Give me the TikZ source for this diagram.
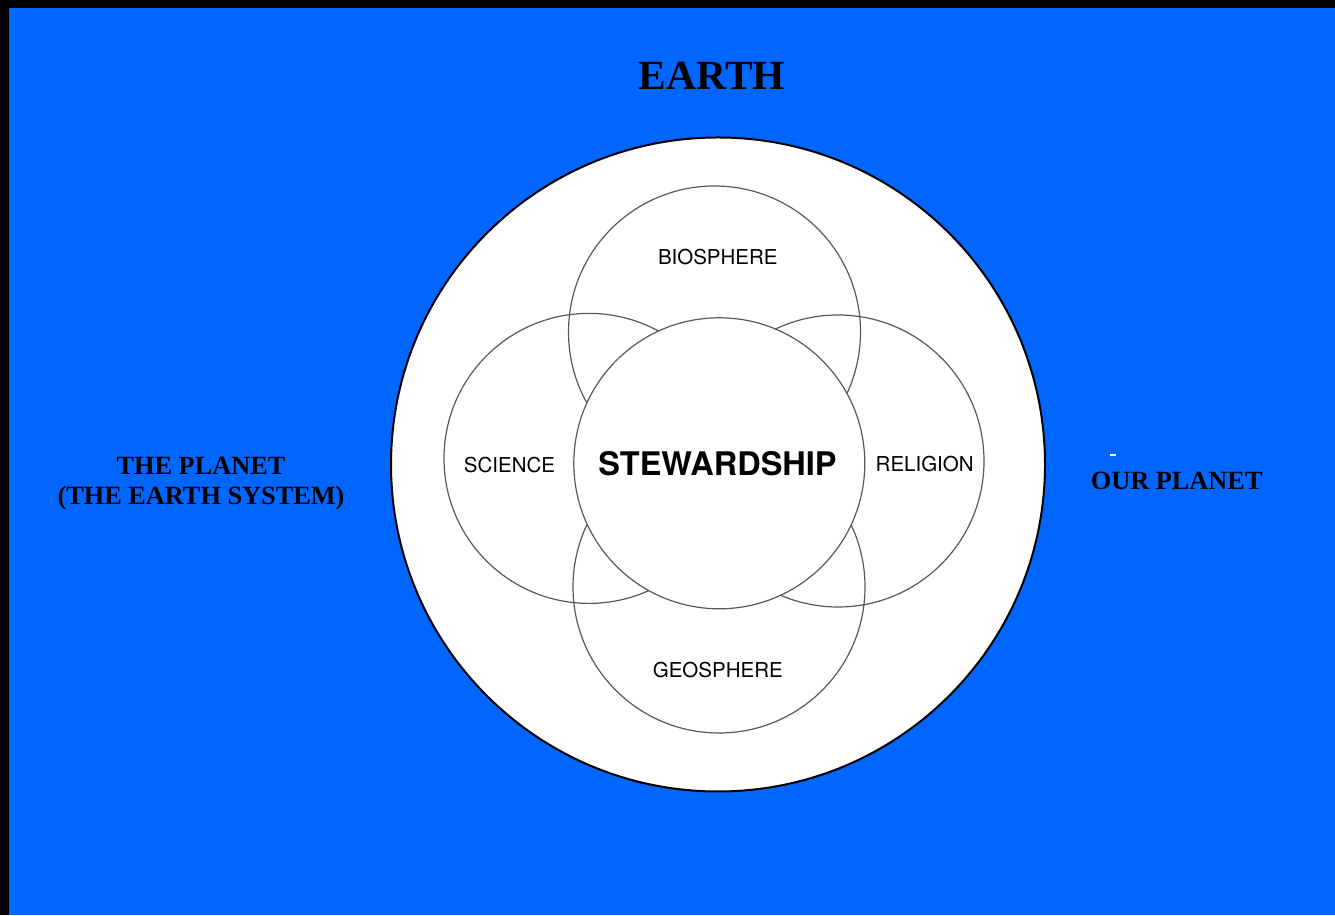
\documentclass[tikz,border=0pt]{standalone}
\usepackage{fontspec}
\setmainfont{Liberation Serif}
\newfontfamily\heros{TeX Gyre Heros}
\tikzset{
  ring/.style={draw=black!65,line width=1.2pt},
  sphere/.style={anchor=base,inner sep=0pt,font=\heros\fontsize{20.5}{24}\selectfont},
  caption/.style={anchor=base,inner sep=0pt,font=\bfseries\fontsize{26.3}{30}\selectfont}
}
\begin{document}
\begin{tikzpicture}[x=1pt,y=1pt]
\definecolor{color0}{HTML}{0066FF}
\useasboundingbox (0,0) rectangle (1335,915);
\clip (0,0) rectangle (1335,915);
\fill[black] (0,0) rectangle (1335,915);
\fill[color0] (9,0) rectangle (1335,907);
\fill[white] (1110,459) rectangle (1116,461);
\node[caption,font=\bfseries\fontsize{41.5}{46}\selectfont] (earth) at (712,825) {EARTH};
\node[caption] (planet) at (201,440) {THE PLANET};
\node[caption] (system) at (201,410) {(THE EARTH SYSTEM)};
\node[caption] (ours) at (1176.7,425) {OUR PLANET};
\draw[fill=white,line width=2pt] (718,450.5) circle (327);
\draw[ring] (714.5,583.0) circle (146);
\draw[ring] (589.0,456.6) circle (145);
\draw[ring] (838.0,454.0) circle (146);
\draw[ring] (719.0,328.0) circle (146);
\draw[ring,fill=white] (719.3,451.7) circle (145.5);
\node[sphere] (bio) at (717.8,650.7) {BIOSPHERE};
\node[sphere] (sci) at (509.5,442.3) {SCIENCE};
\node[sphere] (rel) at (924.7,443.0) {RELIGION};
\node[sphere] (geo) at (717.8,237.3) {GEOSPHERE};
\node[sphere,font=\heros\bfseries\fontsize{32.5}{38}\selectfont] (steward) at (717.5,439.3) {STEWARDSHIP};
\end{tikzpicture}
\end{document}
